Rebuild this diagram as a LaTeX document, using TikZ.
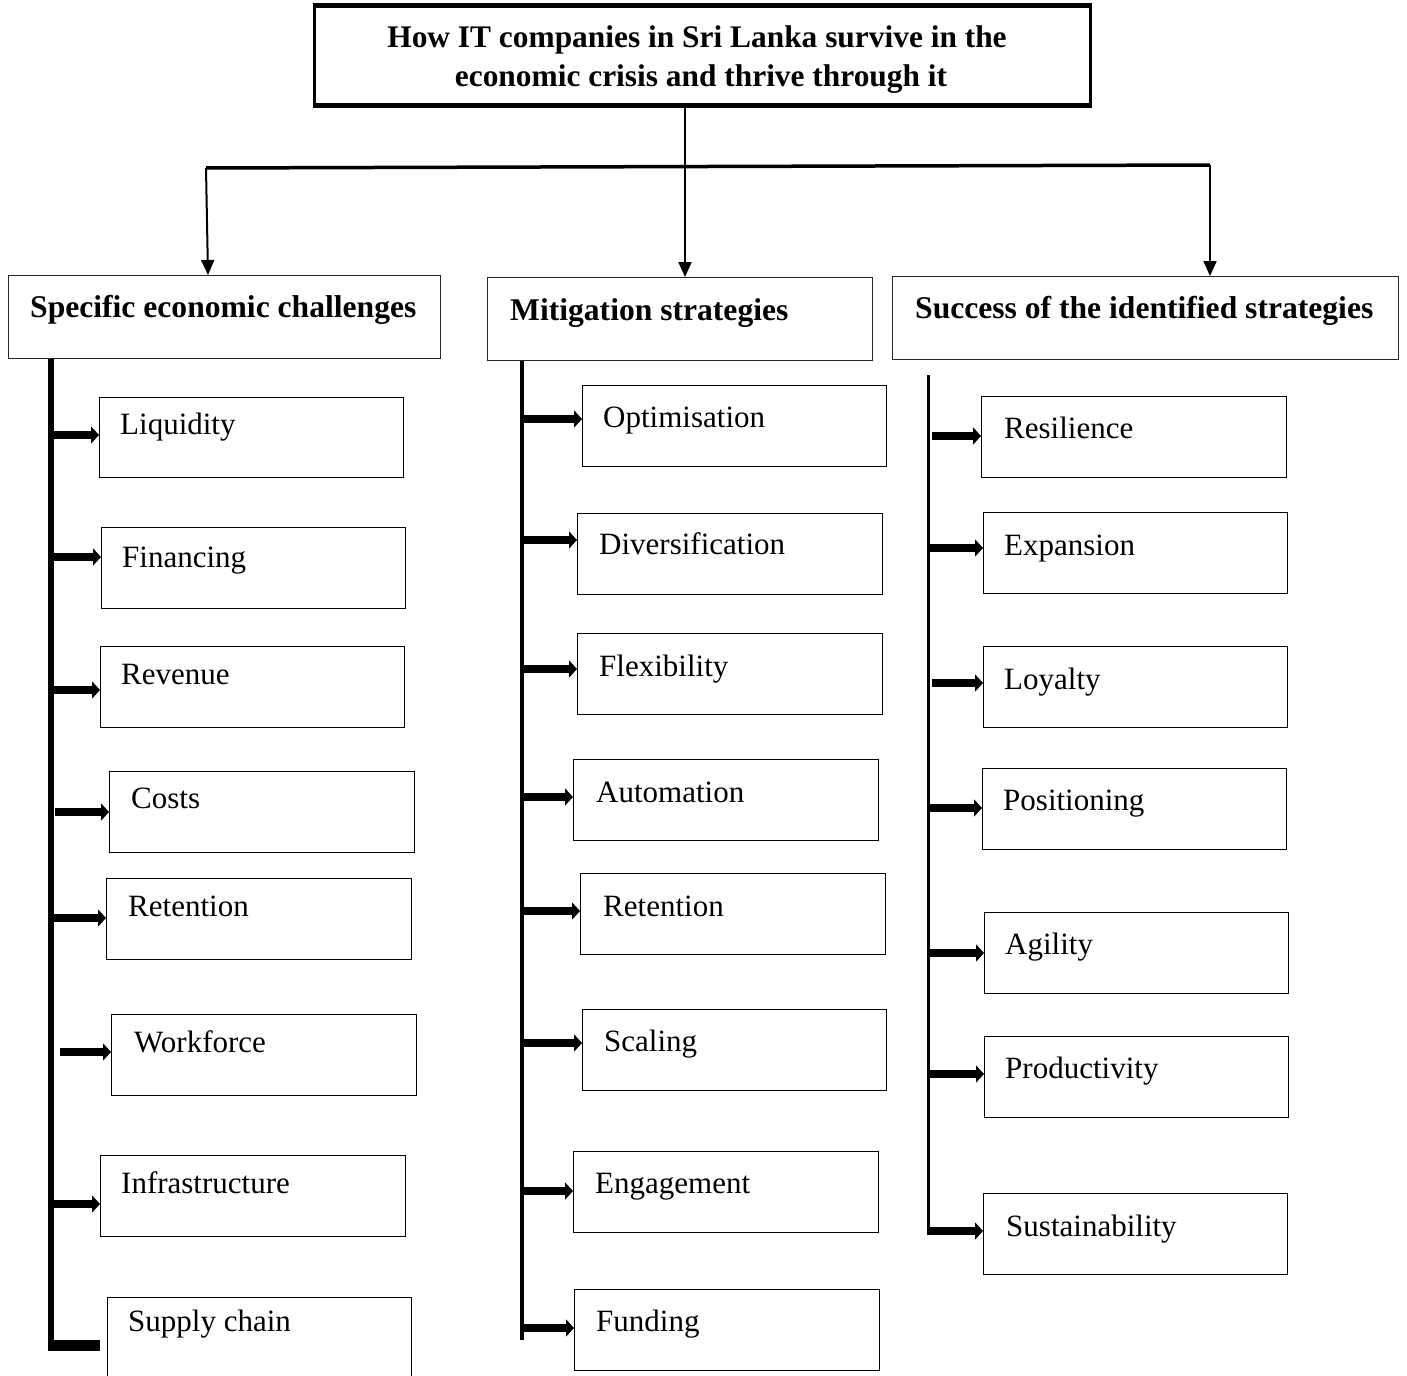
\documentclass[tikz,border=0pt]{standalone}
\usepackage{fontspec}
\setmainfont{Liberation Serif}
\usetikzlibrary{arrows.meta}

\tikzset{
  itembox/.style={draw, line width=1.4pt, anchor=north west, inner sep=0pt},
  itemtext/.style={anchor=base west, inner sep=0pt, font=\fontsize{31}{36}\selectfont},
  hdrbox/.style={draw=black!85, line width=1.4pt, anchor=north west, inner sep=0pt},
  hdrtext/.style={anchor=base west, inner sep=0pt, font=\fontsize{31.6}{36}\selectfont\bfseries},
  titletext/.style={anchor=base, inner sep=0pt, font=\fontsize{31.4}{36}\selectfont\bfseries},
  feed/.style={line width=8pt, -{Triangle[length=8pt,width=17pt]}},
  drop/.style={line width=2pt, -{Triangle[length=15pt,width=13pt]}},
}

% box with a label: name, x1, y1, x2, y2, text, text x, baseline y
\newcommand\itm[8]{%
  \node[itembox, minimum width={(#4-#2)*1pt}, minimum height={(#5-#3)*1pt}] (#1) at (#2,#3) {};
  \node[itemtext] (#1t) at (#7,#8) {#6};}
% thick feed arrow from a spine point to a box: box name, start x, y
\newcommand\feedto[3]{%
  \coordinate (#1s) at (#2,#3);
  \draw[feed] (#1s) -- (#1s -| #1.west);}

\begin{document}
\begin{tikzpicture}[x=1pt, y=-1pt]
\clip (0,0) rectangle (1407,1375);
\fill[white] (0,0) rectangle (1407,1375);

% title
\node[draw, line width=3pt, anchor=north west, inner sep=0pt,
      minimum width=776pt, minimum height=98pt] (title) at (313,5) {};
\draw[line width=4.5pt] (title.north west) -- (title.north east);
\draw[line width=4.5pt] (title.south west) -- (title.south east);
\node[titletext] (title1) at (697,48) {How IT companies in Sri Lanka survive in the};
\node[titletext] (title2) at (701,87) {economic crisis and thrive through it};

% headers
\node[hdrbox, minimum width=432pt, minimum height=83pt] (hdr1) at (8,275) {};
\node[hdrtext] (hdr1t) at (30,317) {Specific economic challenges};
\node[hdrbox, minimum width=385pt, minimum height=83pt] (hdr2) at (487,277) {};
\node[hdrtext] (hdr2t) at (510,320) {Mitigation strategies};
\node[hdrbox, minimum width=506pt, minimum height=83pt] (hdr3) at (892,276) {};
\node[hdrtext] (hdr3t) at (915,318) {Success of the identified strategies};

% distribution bus
\coordinate (busL) at (206,168);
\coordinate (busM) at (685,166.5);
\coordinate (busR) at (1210,165);
\draw[line width=3.5pt] (busL) -- (busR);
\draw[drop] (title.south -| busM) -- (hdr2.north -| busM);
\draw[drop] (busL) -- (hdr1.north -| 208,0);
\draw[drop] (busR) -- (hdr3.north -| busR);

% challenges
\itm{liq}{99}{397}{403}{477}{Liquidity}{120}{434}
\itm{fin}{101}{527}{405}{608}{Financing}{122}{567}
\itm{rev}{100}{646}{404}{727}{Revenue}{121}{684}
\itm{cost}{109}{771}{414}{852}{Costs}{131}{808}
\itm{retA}{106}{878}{411}{959}{Retention}{128}{916}
\itm{work}{111}{1014}{416}{1095}{Workforce}{134}{1052}
\itm{infra}{100}{1155}{405}{1236}{Infrastructure}{121}{1193}
\itm{supply}{107}{1297}{411}{1400}{Supply chain}{128}{1331}

% mitigation strategies
\itm{opt}{582}{385}{886}{466}{Optimisation}{603}{427}
\itm{div}{577}{513}{882}{594}{Diversification}{599}{554}
\itm{flex}{577}{633}{882}{714}{Flexibility}{599}{676}
\itm{auto}{573}{759}{878}{840}{Automation}{596}{802}
\itm{retB}{580}{873}{885}{954}{Retention}{603}{916}
\itm{scal}{582}{1009}{886}{1090}{Scaling}{604}{1051}
\itm{eng}{573}{1151}{878}{1232}{Engagement}{595}{1193}
\itm{fund}{574}{1289}{879}{1370}{Funding}{596}{1331}

% outcomes
\itm{res}{981}{396}{1286}{477}{Resilience}{1004}{438}
\itm{exp}{983}{512}{1287}{593}{Expansion}{1004}{555}
\itm{loy}{983}{646}{1287}{727}{Loyalty}{1004}{689}
\itm{pos}{982}{768}{1286}{849}{Positioning}{1003}{810}
\itm{agi}{984}{912}{1288}{993}{Agility}{1005}{954}
\itm{prod}{984}{1036}{1288}{1117}{Productivity}{1005}{1078}
\itm{sus}{983}{1193}{1287}{1274}{Sustainability}{1006}{1236}

% spines
\coordinate (lsTop) at (hdr1.south -| 51,0);
\coordinate (lsBot) at (51,1345);
\coordinate (lsCorner) at (48,1345);
\coordinate (lsEnd) at (100,1345);
\draw[line width=6pt] (lsTop) -- (lsBot);
\draw[line width=11pt] (lsCorner) -- (lsEnd);

\coordinate (msTop) at (hdr2.south -| 522,0);
\coordinate (msBot) at (522,1340);
\draw[line width=4pt] (msTop) -- (msBot);

\coordinate (rsTop) at (928,375);
\coordinate (rsBot) at (928,1235);
\draw[line width=3pt] (rsTop) -- (rsBot);

% feed arrows
\feedto{liq}{51}{435}
\feedto{fin}{51}{557}
\feedto{rev}{51}{690}
\feedto{cost}{55}{812}
\feedto{retA}{51}{918}
\feedto{work}{60}{1052}
\feedto{infra}{51}{1204}

\feedto{opt}{524}{419}
\feedto{div}{522}{540}
\feedto{flex}{522}{669}
\feedto{auto}{522}{797}
\feedto{retB}{522}{911}
\feedto{scal}{522}{1043}
\feedto{eng}{522}{1191}
\feedto{fund}{522}{1328}

\feedto{res}{932}{436}
\feedto{exp}{928}{548}
\feedto{loy}{932}{683}
\feedto{pos}{928}{808}
\feedto{agi}{928}{953}
\feedto{prod}{928}{1074}
\feedto{sus}{928}{1231}
\end{tikzpicture}
\end{document}
